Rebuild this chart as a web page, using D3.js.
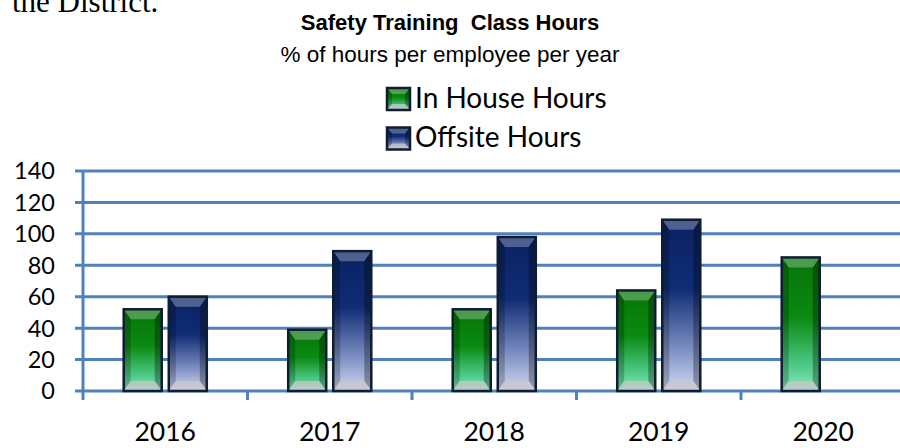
<!DOCTYPE html>
<html>
<head>
<meta charset="utf-8">
<script src="https://cdn.jsdelivr.net/npm/d3@7"></script>
<style>
  body { margin: 0; background: #fff; }
  svg { display: block; }
</style>
</head>
<body>
<div id="chart"></div>
<script>
// chart data
const years = ["2016", "2017", "2018", "2019", "2020"];
const seriesNames = ["In House Hours", "Offsite Hours"];
const inHouse = [52, 39, 52, 64, 85];
const offsite = [60, 89, 98, 109, null];
const yTicks = [0, 20, 40, 60, 80, 100, 120, 140];

const width = 900;
const height = 448;

const svg = d3.select("#chart")
    .append("svg")
    .attr("width", width)
    .attr("height", height);

const defs = svg.append("defs");

function addGradient(id, stops) {
    const g = defs.append("linearGradient")
        .attr("id", id)
        .attr("x1", 0).attr("y1", 0)
        .attr("x2", 0).attr("y2", 1);
    stops.forEach(s => g.append("stop").attr("offset", s[0]).attr("stop-color", s[1]));
}
addGradient("gGreen", [[0, "#067406"], [0.45, "#0a8a12"], [0.8, "#4cc884"], [1, "#8ee8bc"]]);
addGradient("gBlue", [[0, "#0a2262"], [0.4, "#0f2c74"], [0.75, "#7a8cc0"], [1, "#d2daf2"]]);
const fills = ["url(#gGreen)", "url(#gBlue)"];

// scales
const plotLeft = 83, plotRight = 905.5, plotTop = 171, plotBottom = 391;

const x0 = d3.scaleBand()
    .domain(years)
    .range([plotLeft, plotRight])
    .paddingInner(0.495)
    .paddingOuter(0.2475);

const x1 = d3.scaleBand()
    .domain(seriesNames)
    .range([0, x0.bandwidth()])
    .paddingInner(0.156);

const y = d3.scaleLinear()
    .domain([0, 140])
    .range([plotBottom, plotTop]);

const gridColor = "#4f81bd";

// text above the chart from the surrounding page (cut off, as in the source)
svg.append("text")
    .attr("x", 12)
    .attr("y", 12)
    .attr("font-family", "Liberation Serif, Times New Roman, serif")
    .attr("font-size", 31)
    .text("the District.");

// titles
svg.append("text")
    .attr("x", 450)
    .attr("y", 30)
    .attr("text-anchor", "middle")
    .attr("font-family", "Liberation Sans, Arial, sans-serif")
    .attr("font-weight", "bold")
    .attr("font-size", 22)
    .style("white-space", "pre")
    .text("Safety Training  Class Hours");

svg.append("text")
    .attr("x", 450)
    .attr("y", 62)
    .attr("text-anchor", "middle")
    .attr("font-family", "Liberation Sans, Arial, sans-serif")
    .attr("font-size", 22.5)
    .text("% of hours per employee per year");

// gridlines
svg.append("g")
    .selectAll("line")
    .data(yTicks)
    .join("line")
    .attr("x1", plotLeft - 8)
    .attr("x2", plotRight + 2)
    .attr("y1", d => y(d))
    .attr("y2", d => y(d))
    .attr("stroke", gridColor)
    .attr("stroke-width", 3);

// y tick labels
svg.append("g")
    .selectAll("text")
    .data(yTicks)
    .join("text")
    .attr("x", 55)
    .attr("y", d => y(d))
    .attr("dy", "0.36em")
    .attr("text-anchor", "end")
    .attr("font-family", "Lato, sans-serif")
    .attr("font-size", 23.5)
    .attr("fill", "#000")
    .text(d => d);

// axis line + category ticks
svg.append("line")
    .attr("x1", plotLeft).attr("x2", plotLeft)
    .attr("y1", plotTop).attr("y2", plotBottom + 9)
    .attr("stroke", gridColor)
    .attr("stroke-width", 3);

const boundaries = d3.range(1, years.length).map(i => plotLeft + i * x0.step());
svg.append("g")
    .selectAll("line")
    .data(boundaries)
    .join("line")
    .attr("x1", d => d).attr("x2", d => d)
    .attr("y1", plotBottom).attr("y2", plotBottom + 9)
    .attr("stroke", gridColor)
    .attr("stroke-width", 3);

// x labels
svg.append("g")
    .selectAll("text")
    .data(years)
    .join("text")
    .attr("x", d => x0(d) + x0.bandwidth() / 2)
    .attr("y", 441)
    .attr("text-anchor", "middle")
    .attr("font-family", "Lato, sans-serif")
    .attr("font-size", 26.5)
    .text(d => d);

// bevelled bar drawing
function bevelBar(g, w, h, fill, bx, by) {
    g.append("rect").attr("width", w).attr("height", h).attr("fill", fill);
    const bxx = Math.min(bx, w / 2), byy = Math.min(by, h / 2);
    g.append("polygon")
        .attr("points", [[0, 0], [bxx, byy], [bxx, h - byy], [0, h]].join(" "))
        .attr("fill", "#000").attr("opacity", 0.22);
    g.append("polygon")
        .attr("points", [[w, 0], [w - bxx, byy], [w - bxx, h - byy], [w, h]].join(" "))
        .attr("fill", "#000").attr("opacity", 0.3);
    g.append("polygon")
        .attr("points", [[0, 0], [w, 0], [w - bxx, byy], [bxx, byy]].join(" "))
        .attr("fill", "#fff").attr("opacity", 0.28);
    g.append("polygon")
        .attr("points", [[0, h], [w, h], [w - bxx, h - byy], [bxx, h - byy]].join(" "))
        .attr("fill", "#c9c4c8").attr("opacity", 0.75);
    g.append("rect").attr("width", w).attr("height", h)
        .attr("fill", "none")
        .attr("stroke", "#0f1d33")
        .attr("stroke-width", 2.5);
}

const rows = [];
years.forEach((yr, i) => {
    [inHouse[i], offsite[i]].forEach((v, s) => {
        if (v != null) rows.push({ year: yr, series: s, value: v });
    });
});

svg.append("g")
    .selectAll("g")
    .data(rows)
    .join("g")
    .attr("transform", d => `translate(${x0(d.year) + x1(seriesNames[d.series])},${y(d.value)})`)
    .each(function (d) {
        bevelBar(d3.select(this), x1.bandwidth(), y(0) - y(d.value), fills[d.series], 7, 10);
    });

// legend
const legend = svg.append("g")
    .selectAll("g")
    .data(seriesNames)
    .join("g")
    .attr("transform", (d, i) => `translate(387,${88 + i * 39.5})`);

legend.each(function (d, i) {
    bevelBar(d3.select(this), 23, 22, fills[i], 5, 6);
});

legend.append("text")
    .attr("x", 28)
    .attr("y", 19.5)
    .attr("font-family", "Lato, sans-serif")
    .attr("font-size", 28)
    .text(d => d);
</script>
</body>
</html>
